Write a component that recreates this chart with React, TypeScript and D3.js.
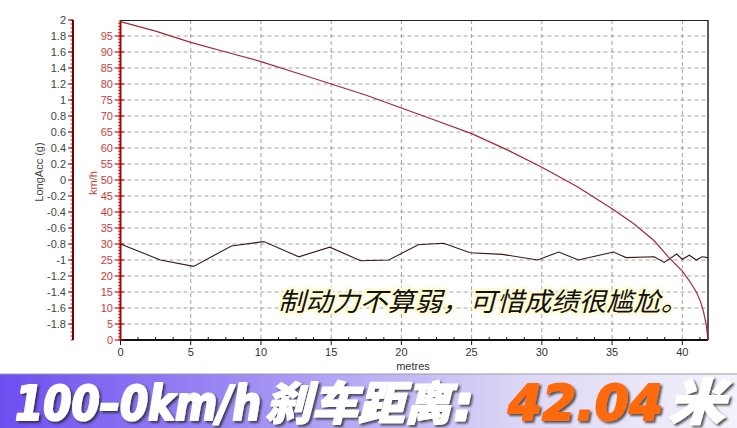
import React from "react";
import * as d3 from "d3";

const distance = [0, 2.5, 5, 7.5, 10, 12.5, 15, 17.5, 20, 22.5, 25, 27.5, 30, 32.5, 35, 36.5, 38, 39, 40, 40.5, 41, 41.3, 41.5, 41.7, 41.83];
const speed = [99.5, 96.5, 93, 90, 87, 83.5, 80, 76.5, 72.5, 68.5, 64.5, 59.5, 54, 48, 41, 36.5, 31, 26, 21.5, 18.5, 15, 12, 9, 5, 0];

const accDistance = [0, 2.84, 5.2, 7.9, 10.2, 12.7, 14.9, 17.1, 19.1, 21.2, 22.0, 23.0, 24.9, 27.2, 29.7, 31.2, 32.6, 35.1, 36.0, 38.0, 38.7, 39.6, 40.0, 40.5, 41.0, 41.4, 41.8];
const longAcc = [-0.8, -1.0, -1.08, -0.825, -0.77, -0.96, -0.84, -1.01, -1.0, -0.81, -0.8, -0.79, -0.91, -0.93, -1.0, -0.9, -1.0, -0.9, -0.97, -0.96, -1.03, -0.925, -0.99, -0.94, -1.0, -0.96, -0.97];

const xTicks = [0, 5, 10, 15, 20, 25, 30, 35, 40];
const speedTicks = [0, 5, 10, 15, 20, 25, 30, 35, 40, 45, 50, 55, 60, 65, 70, 75, 80, 85, 90, 95];
const accTicks = [2, 1.8, 1.6, 1.4, 1.2, 1, 0.8, 0.6, 0.4, 0.2, 0, -0.2, -0.4, -0.6, -0.8, -1, -1.2, -1.4, -1.6, -1.8];

const caption = "制动力不算弱，可惜成绩很尴尬。";
const bannerParts = ["100–0km/h", "刹车距离", ":", "42.04", "米"];

export default function App() {
  const W = 737, H = 428;
  const x = d3.scaleLinear().domain([0, 41.83]).range([120.5, 708]);
  const yS = d3.scaleLinear().domain([0, 100]).range([340, 20]);
  const yA = d3.scaleLinear().domain([-2, 2]).range([340, 20]);

  const speedLine = d3.line<number>().x((_, i) => x(distance[i])).y((d) => yS(d));
  const accLine = d3.line<number>().x((_, i) => x(accDistance[i])).y((d) => yA(d));

  const minorX = d3.range(0, 41.8, 1.25).filter((v) => Math.abs(v % 5) > 0.01);
  const minorS = d3.range(0, 100, 1);
  const minorA = d3.range(-2, 2.001, 0.05);

  const font = "'Liberation Sans', Arial, sans-serif";
  const grid = "#8a8a8a";

  return (
    <svg width={W} height={H} style={{ position: "fixed", left: 0, top: 0, background: "#fff" }}>
      <defs>
        <linearGradient id="band" x1="0" x2="1" y1="0" y2="0">
          <stop offset="0" stopColor="#6e4ef0" />
          <stop offset="0.35" stopColor="#a290f4" />
          <stop offset="0.7" stopColor="#dbd6f6" />
          <stop offset="1" stopColor="#f4f3fb" />
        </linearGradient>
        <filter id="shadow" x="-5%" y="-20%" width="110%" height="140%">
          <feDropShadow dx="2" dy="2" stdDeviation="1.2" floodColor="#222" floodOpacity="0.75" />
        </filter>
      </defs>
      <rect x={0} y={0} width={W} height={H} fill="#fff" />

      {/* grid */}
      {speedTicks.filter((t) => t > 0).map((t) => (
        <line key={"gs" + t} x1={x(0)} x2={708} y1={yS(t)} y2={yS(t)} stroke={grid} strokeWidth={0.8} strokeDasharray="4,3" />
      ))}
      {xTicks.filter((t) => t > 0).map((t) => (
        <line key={"gx" + t} x1={x(t)} x2={x(t)} y1={20} y2={340} stroke={grid} strokeWidth={0.8} strokeDasharray="4,3" />
      ))}

      {/* frame */}
      <line x1={x(0)} x2={708} y1={20.5} y2={20.5} stroke="#222" strokeWidth={1.2} />
      <line x1={708} x2={708} y1={20} y2={340} stroke="#222" strokeWidth={1.5} />
      <line x1={x(0)} x2={708} y1={340} y2={340} stroke="#111" strokeWidth={2} />

      {/* x axis ticks */}
      {xTicks.map((t) => (
        <g key={"xt" + t}>
          <line x1={x(t)} x2={x(t)} y1={340} y2={345} stroke="#111" strokeWidth={1} />
          <text x={x(t)} y={356} textAnchor="middle" fontFamily={font} fontSize={11} fill="#333">{t}</text>
        </g>
      ))}
      {minorX.map((t) => (
        <line key={"mx" + t} x1={x(t)} x2={x(t)} y1={337} y2={340} stroke="#111" strokeWidth={1} />
      ))}
      <text x={413} y={369.5} textAnchor="middle" fontFamily={font} fontSize={11} fill="#333">metres</text>

      {/* speed axis */}
      <line x1={x(0)} x2={x(0)} y1={20} y2={340} stroke="#b00000" strokeWidth={2} />
      {minorS.map((t) => (
        <line key={"ms" + t} x1={x(0) - 2.5} x2={x(0)} y1={yS(t)} y2={yS(t)} stroke="#b00000" strokeWidth={0.8} />
      ))}
      {speedTicks.map((t) => (
        <g key={"st" + t}>
          <line x1={x(0) - 6} x2={x(0) + 4} y1={yS(t)} y2={yS(t)} stroke="#b00000" strokeWidth={1} />
          <text x={113} y={yS(t) + 4} textAnchor="end" fontFamily={font} fontSize={11} fill="#c83c3c">{t}</text>
        </g>
      ))}
      <text transform="translate(97,183) rotate(-90)" textAnchor="middle" fontFamily={font} fontSize={11} fill="#c83c3c">km/h</text>

      {/* acc axis */}
      <line x1={73} x2={73} y1={20} y2={340} stroke="#7a0000" strokeWidth={2} />
      {minorA.map((t, i) => (
        <line key={"ma" + i} x1={70.5} x2={73} y1={yA(t)} y2={yA(t)} stroke="#7a0000" strokeWidth={0.8} />
      ))}
      {accTicks.map((t) => (
        <g key={"at" + t}>
          <line x1={68} x2={73} y1={yA(t)} y2={yA(t)} stroke="#7a0000" strokeWidth={1} />
          <text x={66} y={yA(t) + 4} textAnchor="end" fontFamily={font} fontSize={11} fill="#444">{t}</text>
        </g>
      ))}
      <text transform="translate(43,172) rotate(-90)" textAnchor="middle" fontFamily={font} fontSize={11} fill="#444">LongAcc (g)</text>

      {/* data */}
      <path d={accLine(longAcc) || ""} fill="none" stroke="#3a1818" strokeWidth={1.1} />
      <path d={speedLine(speed) || ""} fill="none" stroke="#a3283a" strokeWidth={1.2} />

      {/* caption */}
      <text x={278} y={311} fontFamily="'Noto Sans CJK SC', sans-serif" fontSize={26} fontStyle="italic" fill="#111"
        stroke="#fffbd2" strokeWidth={5} strokeLinejoin="round" style={{ paintOrder: "stroke" }} textLength={410} lengthAdjust="spacingAndGlyphs">{caption}</text>

      {/* banner */}
      <rect x={0} y={374} width={W} height={54} fill="url(#band)" />
      <line x1={0} x2={W} y1={374} y2={374} stroke="#9a9aa8" strokeWidth={1} />
      <g filter="url(#shadow)" fontStyle="italic" fontWeight="bold" strokeLinejoin="round">
        <text x={15} y={420} fontFamily="'DejaVu Sans', sans-serif" fontSize={48} fill="#fff" stroke="#fff" strokeWidth={2.2} textLength={246} lengthAdjust="spacingAndGlyphs">{bannerParts[0]}</text>
        <text x={265} y={420} fontFamily="'Noto Sans CJK SC', sans-serif" fontWeight={900} fontSize={46} fill="#fff" stroke="#fff" strokeWidth={1.2} textLength={186} lengthAdjust="spacingAndGlyphs">{bannerParts[1]}</text>
        <text x={454} y={420} fontFamily="'DejaVu Sans', sans-serif" fontSize={48} fill="#fff" stroke="#fff" strokeWidth={3}>{bannerParts[2]}</text>
        <text x={508} y={420} fontFamily="'DejaVu Sans', sans-serif" fontSize={50} fill="#ff6a10" stroke="#ff6a10" strokeWidth={2} textLength={155} lengthAdjust="spacingAndGlyphs">{bannerParts[3]}</text>
        <text x={668} y={420} fontFamily="'Noto Sans CJK SC', sans-serif" fontWeight={900} fontSize={50} fill="#fff" stroke="#fff" strokeWidth={1.2} textLength={57} lengthAdjust="spacingAndGlyphs">{bannerParts[4]}</text>
      </g>
    </svg>
  );
}
